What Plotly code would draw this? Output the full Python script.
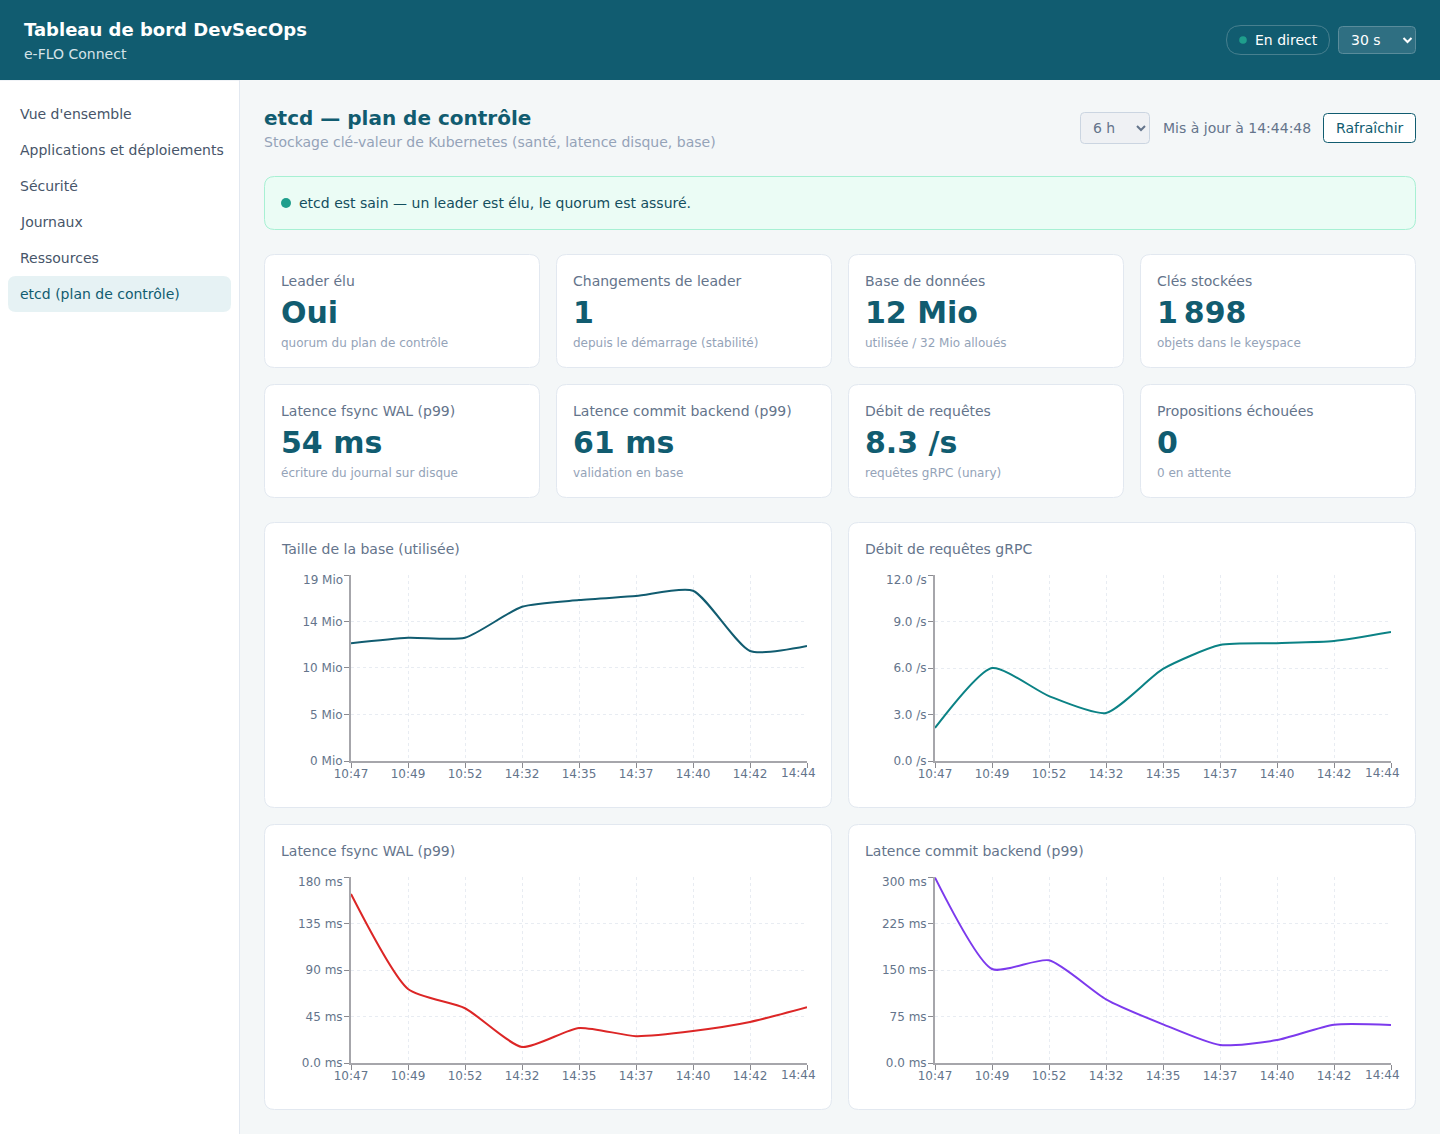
import plotly.graph_objects as go

W = 1440
H = 1134

nav_items = ["Vue d'ensemble", "Applications et déploiements", "Sécurité", "Journaux", "Ressources", "etcd (plan de contrôle)"]

kpi_labels = ["Leader élu", "Changements de leader", "Base de données", "Clés stockées",
              "Latence fsync WAL (p99)", "Latence commit backend (p99)", "Débit de requêtes", "Propositions échouées"]
kpi_values = ["Oui", "1", "12 Mio", "1\u202f898", "54 ms", "61 ms", "8.3 /s", "0"]
kpi_subs = ["quorum du plan de contrôle", "depuis le démarrage (stabilité)", "utilisée / 32 Mio alloués", "objets dans le keyspace",
            "écriture du journal sur disque", "validation en base", "requêtes gRPC (unary)", "0 en attente"]

times = ["10:47", "10:49", "10:52", "14:32", "14:35", "14:37", "14:40", "14:42", "14:44"]

db_size = [12.07, 12.64, 12.64, 15.82, 16.5, 16.92, 17.46, 11.28, 11.79]
grpc_rate = [2.13, 6.0, 4.19, 3.1, 5.94, 7.48, 7.6, 7.74, 8.32]
wal_fsync = [163.5, 71.6, 53, 15.5, 33.9, 26, 31, 39.7, 54]
backend_commit = [299, 151.6, 165.6, 102.7, 62.4, 29, 37, 61.8, 61.3]

db_ticks = [0, 4.77, 9.54, 14.31, 19.07]
db_labels = ["0 Mio", "5 Mio", "10 Mio", "14 Mio", "19 Mio"]
grpc_ticks = [0, 3, 6, 9, 12]
grpc_labels = ["0.0 /s", "3.0 /s", "6.0 /s", "9.0 /s", "12.0 /s"]
wal_ticks = [0, 45, 90, 135, 180]
wal_labels = ["0.0 ms", "45 ms", "90 ms", "135 ms", "180 ms"]
commit_ticks = [0, 75, 150, 225, 300]
commit_labels = ["0.0 ms", "75 ms", "150 ms", "225 ms", "300 ms"]

FONT = "DejaVu Sans"
BRAND = "#115c70"
SLATE = "#64748b"
MUTED = "#94a3b8"
BORDER = "#e2e8f0"
AXIS = "#a6a6ab"
TICK = "#8a8a90"
GRID = "#e8ecf2"
BG = "#f4f7f8"


def fx(x):
    return x / W


def fy(y):
    return 1 - y / H


def rrect(x0, y0, x1, y1, r, fill, line=None, lw=1):
    a, b, c, d = fx(x0), fx(x1), fy(y0), fy(y1)
    rx, ry = r / W, r / H
    path = (f"M {a+rx} {c} L {b-rx} {c} Q {b} {c} {b} {c-ry} L {b} {d+ry} Q {b} {d} {b-rx} {d} "
            f"L {a+rx} {d} Q {a} {d} {a} {d+ry} L {a} {c-ry} Q {a} {c} {a+rx} {c} Z")
    return dict(type="path", path=path, xref="paper", yref="paper", fillcolor=fill, layer="below",
                line=dict(color=line or fill, width=lw if line else 0))


def dot(cx, cy, r, color):
    return dict(type="circle", xref="paper", yref="paper", x0=fx(cx - r), x1=fx(cx + r), y0=fy(cy + r), y1=fy(cy - r),
                fillcolor=color, line=dict(width=0), layer="above")


def chevron(cx, cy, color):
    path = f"M {fx(cx-4)} {fy(cy-2)} L {fx(cx)} {fy(cy+2)} L {fx(cx+4)} {fy(cy-2)}"
    return dict(type="path", path=path, xref="paper", yref="paper", line=dict(color=color, width=2), layer="above")


def label(x, y, text, size=14, color=SLATE, weight=400, anchor="left"):
    return dict(x=fx(x), y=fy(y), xref="paper", yref="paper", text=text, showarrow=False, xanchor=anchor, yanchor="middle",
                font=dict(family=FONT, size=size, color=color, weight=weight), borderpad=0, borderwidth=0)


shapes = []
notes = []

# header + sidebar
shapes.append(dict(type="rect", xref="paper", yref="paper", x0=-0.01, x1=fx(239.5), y0=-0.01, y1=fy(80), fillcolor="#ffffff",
                   line=dict(color=BORDER, width=1), layer="below"))
shapes.append(dict(type="rect", xref="paper", yref="paper", x0=0, x1=1, y0=fy(80), y1=1, fillcolor=BRAND, line=dict(width=0), layer="below"))
notes.append(label(24, 29.5, "Tableau de bord DevSecOps", 18, "#ffffff", 700))
notes.append(label(24, 54, "e-FLO Connect", 14, "#d5e3e8"))
shapes.append(rrect(1226.5, 25.5, 1329.5, 54.5, 14.5, BRAND, "#48808f"))
shapes.append(dot(1243, 40, 3.8, "#1f9e8c"))
notes.append(label(1255, 40, "En direct", 14, "#ffffff"))
shapes.append(rrect(1338.5, 26.5, 1415.5, 53.5, 4, "#2f6f82", "#5a8c9b"))
notes.append(label(1351, 40, "30 s", 14, "#ffffff"))
shapes.append(chevron(1407.5, 40, "#ffffff"))

for i, item in enumerate(nav_items):
    notes.append(label(20, 114 + 36 * i, item, 14, BRAND if i == 5 else "#475569"))
shapes.append(rrect(8, 276, 231, 312, 8, "#e6f2f4"))

# page head
notes.append(label(264, 118, "etcd — plan de contrôle", 20, BRAND, 700))
notes.append(label(264, 142, "Stockage clé-valeur de Kubernetes (santé, latence disque, base)", 14, MUTED))
shapes.append(rrect(1080.5, 112.5, 1149.5, 143.5, 4, "#eff1f4", "#cbd5e1"))
notes.append(label(1093, 128, "6 h", 14, SLATE))
shapes.append(chevron(1141, 128, SLATE))
notes.append(label(1163, 128, "Mis à jour à 14:44:48", 14, SLATE))
shapes.append(rrect(1323.5, 113.5, 1415.5, 142.5, 4, "#ffffff", BRAND))
notes.append(label(1369.5, 128, "Rafraîchir", 14, BRAND, anchor="center"))

# status banner
shapes.append(rrect(264.5, 176.5, 1415.5, 229.5, 10, "#ebfcf5", "#a7f0d3"))
shapes.append(dot(286, 203, 5, "#1f9e8c"))
notes.append(label(299, 203, "etcd est sain — un leader est élu, le quorum est assuré.", 14, "#134e5e"))

# kpi cards
card_xs = [264, 556, 848, 1140]
card_rows = [(254, 368), (384, 498)]
for i in range(8):
    x = card_xs[i % 4]
    top, bottom = card_rows[i // 4]
    shapes.append(rrect(x + 0.5, top + 0.5, x + 275.5, bottom - 0.5, 10, "#ffffff", BORDER))
    notes.append(label(x + 17, top + 27, kpi_labels[i], 14, SLATE))
    notes.append(label(x + 17, top + (58 if i < 4 else 58.5), kpi_values[i], 30, BRAND, 700))
    notes.append(label(x + 17, top + 89, kpi_subs[i], 12, MUTED))

fig = go.Figure()

charts = [
    ("Taille de la base (utilisée)", db_size, db_ticks, db_labels, "#115c70", 264, 522),
    ("Débit de requêtes gRPC", grpc_rate, grpc_ticks, grpc_labels, "#0b8285", 848, 522),
    ("Latence fsync WAL (p99)", wal_fsync, wal_ticks, wal_labels, "#dc2626", 264, 824),
    ("Latence commit backend (p99)", backend_commit, commit_ticks, commit_labels, "#7c3aed", 848, 824),
]

axes = {}
for n, (title, vals, ticks, labels, color, cx, cy) in enumerate(charts, start=1):
    suffix = "" if n == 1 else str(n)
    shapes.append(rrect(cx + 0.5, cy + 0.5, cx + 567.5, cy + 285.5, 10, "#ffffff", BORDER))
    notes.append(label(cx + (16.5 if n == 1 else 17), cy + 27, title, 14, SLATE))
    fig.add_trace(go.Scatter(x=times, y=vals, mode="lines", xaxis=f"x{suffix}", yaxis=f"y{suffix}",
                             line=dict(color=color, width=2, shape="spline", smoothing=0.62), showlegend=False, hoverinfo="skip"))
    left = cx + 87
    right = cx + 543
    top = cy + 53
    bottom = cy + 239
    axes[f"xaxis{suffix}"] = dict(domain=[fx(left), fx(right)], anchor=f"y{suffix}", type="category", categoryorder="array",
                                  categoryarray=times, range=[0, 8], tickmode="array", tickvals=times, automargin=False,
                                  ticktext=times[:-1] + [""], ticks="outside", ticklen=5, tickwidth=1, tickcolor=TICK, ticklabelstandoff=-4,
                                  showline=True, linecolor=AXIS, linewidth=1.5, showgrid=True, gridcolor=GRID, griddash="3px,3px",
                                  gridwidth=1, zeroline=False, tickangle=0, tickfont=dict(family=FONT, size=12, color=SLATE))
    axes[f"yaxis{suffix}"] = dict(domain=[fy(bottom), fy(top)], anchor=f"x{suffix}", range=[ticks[0], ticks[-1]], tickmode="array",
                                  tickvals=ticks, ticktext=labels[:-1] + [""], ticks="outside", ticklen=5, tickwidth=1, tickcolor=TICK, automargin=False,
                                  ticklabelstandoff=-1,
                                  showline=True, linecolor=AXIS, linewidth=2, showgrid=True, gridcolor=GRID, griddash="3px,3px",
                                  gridwidth=1, zeroline=False, tickfont=dict(family=FONT, size=12, color=SLATE))
    # last x label and top y label sit inside the tick, like the original chart lib does
    notes.append(dict(x=times[-1], y=0, xref=f"x{suffix}", yref=f"y{suffix}", text=times[-1], showarrow=False, xanchor="center",
                      yanchor="middle", xshift=-9, yshift=-12, font=dict(family=FONT, size=12, color=SLATE)))
    notes.append(dict(x=times[0], y=ticks[-1], xref=f"x{suffix}", yref=f"y{suffix}", text=labels[-1], showarrow=False, xanchor="right",
                      yanchor="middle", xshift=-6, yshift=-5, font=dict(family=FONT, size=12, color=SLATE)))

fig.update_layout(width=W, height=H, margin=dict(l=0, r=0, t=0, b=0), autosize=False, paper_bgcolor=BG, plot_bgcolor="rgba(0,0,0,0)",
                  font=dict(family=FONT, size=12, color=SLATE), shapes=shapes, annotations=notes, showlegend=False, **axes)

fig.write_html("out.html", config=dict(displayModeBar=False), post_script="document.body.style.margin='0';document.body.style.overflow='hidden';")
